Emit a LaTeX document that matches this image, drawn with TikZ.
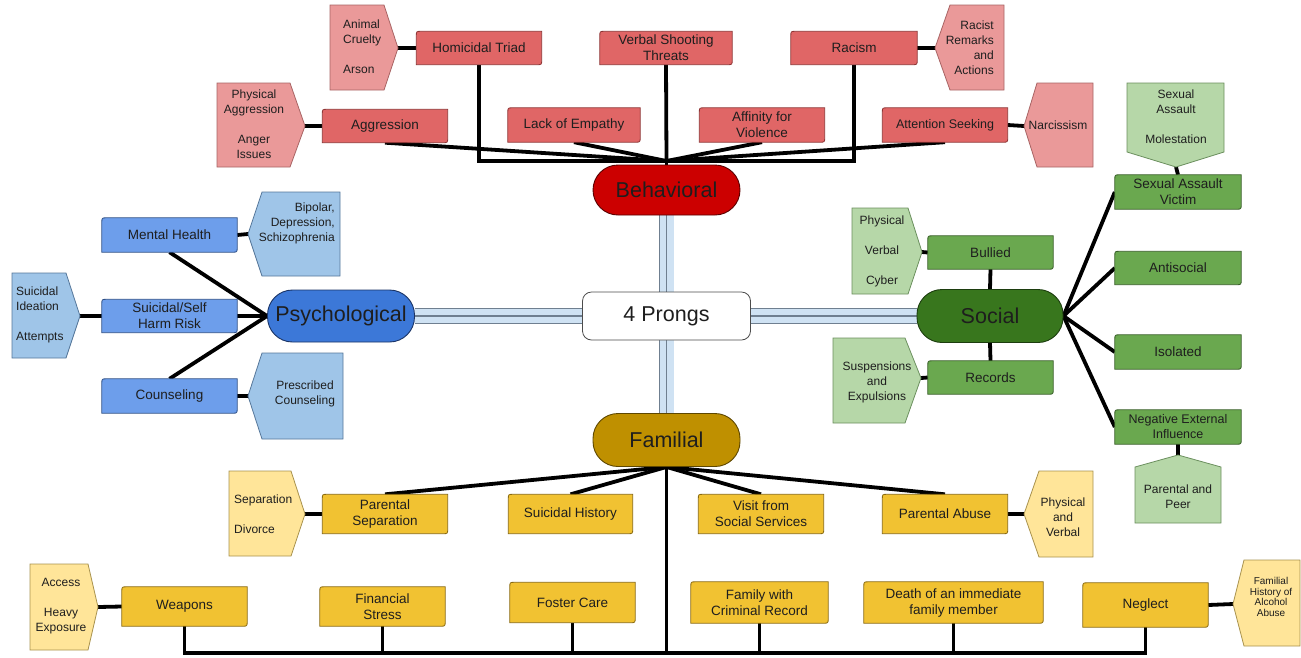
\documentclass[tikz,border=0pt]{standalone}
\usepackage{fontspec}
\setmainfont{Liberation Sans}
\usetikzlibrary{calc}
\pgfdeclarelayer{lines}
\pgfdeclarelayer{shapes}
\pgfsetlayers{lines,shapes,main}
\definecolor{txt}{HTML}{1E1E1E}
\definecolor{redbox}{HTML}{E06666}
\definecolor{redboxb}{HTML}{8E3434}
\definecolor{redlt}{HTML}{EA9999}
\definecolor{redltb}{HTML}{A86464}
\definecolor{behred}{HTML}{CC0000}
\definecolor{behredb}{HTML}{5A0000}
\definecolor{bluebox}{HTML}{6D9EEB}
\definecolor{blueboxb}{HTML}{2E4F86}
\definecolor{bluelt}{HTML}{9FC5E8}
\definecolor{blueltb}{HTML}{56779A}
\definecolor{psyblue}{HTML}{3C78D8}
\definecolor{psyblueb}{HTML}{1A3466}
\definecolor{greenbox}{HTML}{6AA84F}
\definecolor{greenboxb}{HTML}{375E27}
\definecolor{greenlt}{HTML}{B6D7A8}
\definecolor{greenltb}{HTML}{6B8F5E}
\definecolor{socgreen}{HTML}{38761D}
\definecolor{socgreenb}{HTML}{1C3D0E}
\definecolor{goldbox}{HTML}{F1C232}
\definecolor{goldboxb}{HTML}{8A6A10}
\definecolor{goldlt}{HTML}{FFE599}
\definecolor{goldltb}{HTML}{A8924E}
\definecolor{famgold}{HTML}{BF9000}
\definecolor{famgoldb}{HTML}{5E4700}
\definecolor{bandblue}{HTML}{CFE2F3}
\definecolor{bandgray}{HTML}{6F7F90}
\tikzset{
  conn/.style={line width=3.8pt, draw=black},
  box/.style={inner sep=1pt, align=center, text=txt, font=\fontsize{13.5}{16}\selectfont},
  ctext/.style={inner sep=0pt, text=txt, font=\fontsize{12}{15}\selectfont},
  pill/.style={rounded corners=25pt, line width=0.9pt, text=txt, font=\fontsize{21.5}{24}\selectfont, inner sep=0pt},
  rcall/.style={fill=redlt, draw=redltb, line width=0.8pt},
  bcall/.style={fill=bluelt, draw=blueltb, line width=0.8pt},
  gcall/.style={fill=greenlt, draw=greenltb, line width=0.8pt},
  ycall/.style={fill=goldlt, draw=goldltb, line width=0.8pt},
  bandouter/.style={draw=bandgray, line width=0.9pt, double=bandblue, double distance=14pt},
  bandmid/.style={draw=bandgray, line width=1.8pt}
}
\newcommand\dshape[3]{%
  \draw[fill=#2, draw=#3, line width=0.8pt]
    ([yshift=-5pt]#1.north west) .. controls (#1.north west) .. ([xshift=5pt]#1.north west)
    -- (#1.north east) -- ([yshift=5pt]#1.south east)
    .. controls (#1.south east) .. ([xshift=-5pt]#1.south east)
    -- (#1.south west) -- cycle;}
\newcommand\bandline[2]{%
  \draw[bandouter] (#1) -- (#2);
  \draw[bandmid] (#1) -- (#2);}
\begin{document}
\begin{tikzpicture}[x=1pt, y=-1pt]
\useasboundingbox (0,0) rectangle (1301,657);

% ---------- centre ----------
\node[draw=black!70, line width=0.8pt, fill=white, rounded corners=9pt, minimum width=168pt, minimum height=48pt, text=txt, font=\fontsize{21.5}{24}\selectfont] (prongs) at (666.5,316) {4 Prongs};
\node[pill, fill=behred, draw=behredb, minimum width=147pt, minimum height=50pt] (behav) at (666.5,190) {Behavioral};
\node[pill, fill=psyblue, draw=psyblueb, minimum width=147pt, minimum height=52pt] (psych) at (341,316) {Psychological};
\node[pill, fill=socgreen, draw=socgreenb, minimum width=146pt, minimum height=53pt] (social) at (990,316) {Social};
\node[pill, fill=famgold, draw=famgoldb, minimum width=147pt, minimum height=53pt] (fami) at (666.5,440) {Familial};

% ---------- behavioral boxes ----------
\node[box, minimum width=125pt, minimum height=33pt] (aggr) at (385,126) {Aggression};
\node[box, minimum width=125pt, minimum height=33pt] (homi) at (479,48) {Homicidal Triad};
\node[box, minimum width=132pt, minimum height=33pt] (verb) at (666,48) {Verbal Shooting\\Threats};
\node[box, minimum width=132pt, minimum height=34pt] (lack) at (574,125) {Lack of Empathy};
\node[box, minimum width=125pt, minimum height=34pt] (affi) at (762,125) {Affinity for\\Violence};
\node[box, minimum width=126pt, minimum height=33pt] (raci) at (854,48) {Racism};
\node[box, minimum width=125pt, minimum height=34pt, font=\fontsize{12.5}{15}\selectfont] (atte) at (945,125) {Attention Seeking};
\coordinate (bconv) at (666.5,161);

% behavioral callouts
\coordinate (paP) at (305,126);
\node[ctext, align=center] (paT) at (254,124) {Physical\\Aggression\\[15pt]Anger\\Issues};
\coordinate (acP) at (398,48);
\node[ctext, align=left, anchor=west] (acT) at (343,47) {Animal\\Cruelty\\[15pt]Arson};
\coordinate (rrP) at (935,48);
\node[ctext, align=right, anchor=east] (rrT) at (994,48) {Racist\\Remarks\\and\\Actions};
\coordinate (naP) at (1024,126);
\node[ctext] (naT) at (1058,125) {Narcissism};

% ---------- psychological ----------
\node[box, minimum width=135pt, minimum height=34pt] (ment) at (169.5,235) {Mental Health};
\node[box, minimum width=135pt, minimum height=33pt] (suic) at (169.5,316) {Suicidal/Self\\Harm Risk};
\node[box, minimum width=135pt, minimum height=34pt] (coun) at (169.5,396) {Counseling};
\coordinate (bdsP) at (248,234);
\node[ctext, align=right, anchor=east] (bdsT) at (335,223) {Bipolar,\\Depression,\\Schizophrenia};
\coordinate (siaP) at (80,316);
\node[ctext, align=left, anchor=west] (siaT) at (16,315) {Suicidal\\Ideation\\[15pt]Attempts};
\coordinate (pcP) at (248,396);
\node[ctext, align=center] (pcT) at (305,394) {Prescribed\\Counseling};

% ---------- social ----------
\node[box, minimum width=125pt, minimum height=33pt] (bull) at (990.5,252.5) {Bullied};
\node[box, minimum width=125pt, minimum height=33pt] (reco) at (990.5,377.5) {Records};
\node[box, minimum width=126pt, minimum height=34pt] (sav) at (1178,192) {Sexual Assault\\Victim};
\node[box, minimum width=126pt, minimum height=33pt] (anti) at (1178,268) {Antisocial};
\node[box, minimum width=126pt, minimum height=34pt] (isol) at (1178,352) {Isolated};
\node[box, minimum width=126pt, minimum height=34pt, font=\fontsize{12.5}{15}\selectfont] (nei) at (1178,427) {Negative External\\Influence};
\coordinate (pvcP) at (922,252);
\node[ctext, align=center] (pvcT) at (882,251) {Physical\\[15pt]Verbal\\[15pt]Cyber};
\coordinate (seP) at (921,378);
\node[ctext, align=center] (seT) at (877,382) {Suspensions\\and\\Expulsions};
\coordinate (samP) at (1176,167);
\node[ctext, align=center] (samT) at (1176,117) {Sexual\\Assault\\[15pt]Molestation};
\coordinate (ppP) at (1178,455);
\node[ctext, align=center] (ppT) at (1178,497) {Parental and\\Peer};

% ---------- familial ----------
\node[box, minimum width=125pt, minimum height=39pt] (psep) at (385,514) {Parental\\Separation};
\node[box, minimum width=124pt, minimum height=39pt] (shis) at (570.5,514) {Suicidal History};
\node[box, minimum width=125pt, minimum height=39pt] (visi) at (761,514) {Visit from\\Social Services};
\node[box, minimum width=125pt, minimum height=39pt] (pabu) at (945,514) {Parental Abuse};
\coordinate (sdP) at (305,514);
\node[ctext, align=left, anchor=west] (sdT) at (234,514) {Separation\\[15pt]Divorce};
\coordinate (pavP) at (1024,514);
\node[ctext, align=center] (pavT) at (1063,517) {Physical\\and\\Verbal};

\node[box, minimum width=125pt, minimum height=39pt] (weap) at (184.5,606.5) {Weapons};
\node[box, minimum width=125pt, minimum height=39pt] (fina) at (382.5,606.5) {Financial\\Stress};
\node[box, minimum width=125pt, minimum height=40pt] (fost) at (572.5,602.5) {Foster Care};
\node[box, minimum width=137pt, minimum height=41pt] (crim) at (759.5,602.5) {Family with\\Criminal Record};
\node[box, minimum width=179pt, minimum height=41pt] (deat) at (953.5,602.5) {Death of an immediate\\family member};
\node[box, minimum width=125pt, minimum height=44pt] (negl) at (1145.5,605) {Neglect};
\coordinate (bus) at (666.5,653);
\coordinate (aheP) at (98,607);
\node[ctext, align=center] (aheT) at (61,606) {Access\\[15pt]Heavy\\Exposure};
\coordinate (fhP) at (1233,604);
\node[ctext, align=center, font=\fontsize{10}{10.8}\selectfont] (fhT) at (1271,597) {Familial\\History of\\Alcohol\\Abuse};

% ---------- shapes ----------
\begin{pgfonlayer}{shapes}
\foreach \n in {aggr,homi,verb,lack,affi,raci,atte} {\dshape{\n}{redbox}{redboxb}}
\foreach \n in {ment,suic,coun} {\dshape{\n}{bluebox}{blueboxb}}
\foreach \n in {bull,reco,sav,anti,isol,nei} {\dshape{\n}{greenbox}{greenboxb}}
\foreach \n in {psep,shis,visi,pabu,weap,fina,fost,crim,deat,negl} {\dshape{\n}{goldbox}{goldboxb}}
% red callouts
\draw[rcall] (217,83) -- (290,83) -- (paP) -- (290,167) -- (217,167) -- cycle;
\draw[rcall] (330,5) -- (384,5) -- (acP) -- (384,90) -- (330,90) -- cycle;
\draw[rcall] (950,5) -- (1004,5) -- (1004,90) -- (950,90) -- (rrP) -- cycle;
\draw[rcall] (1037,83) -- (1093,83) -- (1093,167) -- (1037,167) -- (naP) -- cycle;
% blue callouts
\draw[bcall] (262,192) -- (340,192) -- (340,276) -- (262,276) -- (bdsP) -- cycle;
\draw[bcall] (12,273) -- (66,273) -- (siaP) -- (66,358) -- (12,358) -- cycle;
\draw[bcall] (262,353) -- (343,353) -- (343,439) -- (262,439) -- (pcP) -- cycle;
% green callouts
\draw[gcall] (852,208) -- (908,208) -- (pvcP) -- (908,294) -- (852,294) -- cycle;
\draw[gcall] (833,338) -- (905,338) -- (seP) -- (905,423) -- (833,423) -- cycle;
\draw[gcall] (1127,83) -- (1224,83) -- (1224,152) -- (samP) -- (1127,152) -- cycle;
\draw[gcall] (1135,467) -- (ppP) -- (1221,467) -- (1221,523) -- (1135,523) -- cycle;
% gold callouts
\draw[ycall] (229,471) -- (291,471) -- (sdP) -- (291,556) -- (229,556) -- cycle;
\draw[ycall] (1039,471) -- (1093,471) -- (1093,557) -- (1039,557) -- (pavP) -- cycle;
\draw[ycall] (30,564) -- (88,564) -- (aheP) -- (88,650) -- (30,650) -- cycle;
\draw[ycall] (1244,560) -- (1300,560) -- (1300,646) -- (1244,646) -- (fhP) -- cycle;
\end{pgfonlayer}

% ---------- connectors ----------
\begin{pgfonlayer}{lines}
\bandline{behav.south}{prongs.north}
\bandline{prongs.south}{fami.north}
\bandline{psych.east}{prongs.west}
\bandline{prongs.east}{social.west}
% behavioral
\draw[conn] (aggr.south) -- (bconv);
\draw[conn] (homi.south) |- (bconv);
\draw[conn] (lack.south) -- (bconv);
\draw[conn] (verb.south) -- (bconv);
\draw[conn] (affi.south) -- (bconv);
\draw[conn] (raci.south) |- (bconv);
\draw[conn] (atte.south) -- (bconv);
\draw[conn] (bconv) -- (behav.north);
\draw[conn] (paP) -- (aggr.west);
\draw[conn] (acP) -- (homi.west);
\draw[conn] (raci.east) -- (rrP);
\draw[conn] (atte.east) -- (naP);
% psychological
\draw[conn] (ment.south) -- (psych.west);
\draw[conn] (suic.east) -- (psych.west);
\draw[conn] (coun.north) -- (psych.west);
\draw[conn] (ment.east) -- (bdsP);
\draw[conn] (siaP) -- (suic.west);
\draw[conn] (coun.east) -- (pcP);
% social
\draw[conn] (bull.south) -- (social.north);
\draw[conn] (social.south) -- (reco.north);
\draw[conn] (social.east) -- (sav.west);
\draw[conn] (social.east) -- (anti.west);
\draw[conn] (social.east) -- (isol.west);
\draw[conn] (social.east) -- (nei.west);
\draw[conn] (pvcP) -- (bull.west);
\draw[conn] (seP) -- (reco.west);
\draw[conn] (samP) -- (sav.north);
\draw[conn] (nei.south) -- (ppP);
% familial
\draw[conn] (fami.south) -- (psep.north);
\draw[conn] (fami.south) -- (shis.north);
\draw[conn] (fami.south) -- (visi.north);
\draw[conn] (fami.south) -- (pabu.north);
\draw[conn] (sdP) -- (psep.west);
\draw[conn] (pabu.east) -- (pavP);
\draw[conn] (fami.south) -- (bus);
\draw[conn] (weap.south) |- (bus);
\draw[conn] (negl.south) |- (bus);
\draw[conn] (fina.south) -- (fina.south |- bus);
\draw[conn] (fost.south) -- (fost.south |- bus);
\draw[conn] (crim.south) -- (crim.south |- bus);
\draw[conn] (deat.south) -- (deat.south |- bus);
\draw[conn] (aheP) -- (weap.west);
\draw[conn] (negl.east) -- (fhP);
\end{pgfonlayer}
\end{tikzpicture}
\end{document}
